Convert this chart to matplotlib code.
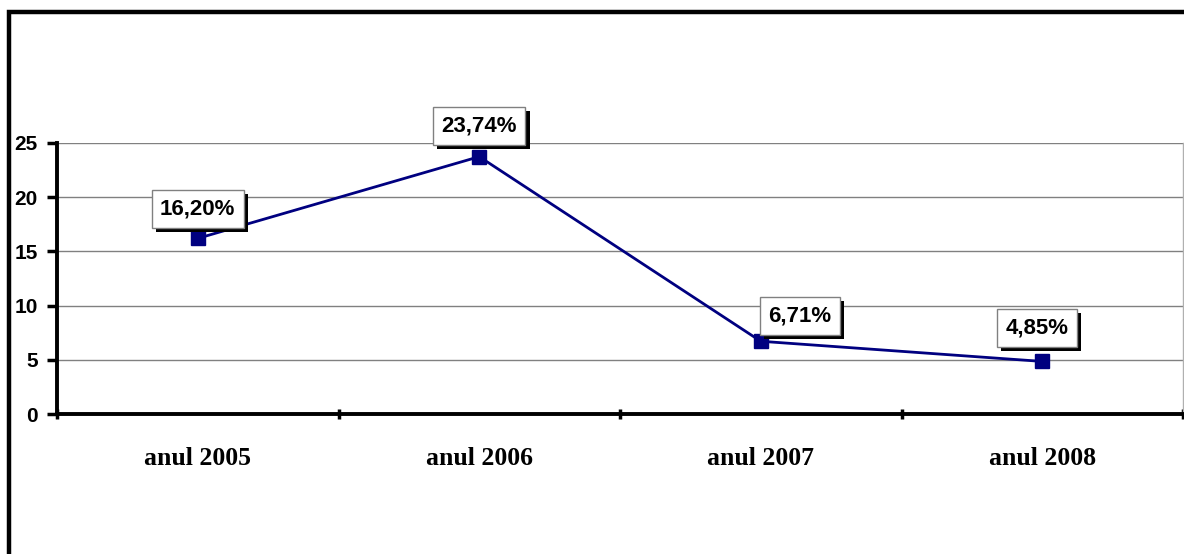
import matplotlib
matplotlib.use("Agg")
import matplotlib.pyplot as plt
import matplotlib.patheffects as pe
from matplotlib.patches import Rectangle

# data
years = ["anul 2005", "anul 2006", "anul 2007", "anul 2008"]
values = [16.20, 23.74, 6.71, 4.85]
labels = ["16,20%", "23,74%", "6,71%", "4,85%"]
# label offsets (points) relative to each marker
offsets = [(0, 21), (0, 22), (28, 18), (-4, 24)]

LINE_COLOR = "#000080"

W, H = 1184, 554
fig = plt.figure(figsize=(W / 100, H / 100), dpi=100)

# outer chart frame (cut off at right and bottom)
fig.patches.append(Rectangle((9 / W, -0.1), 1.2, 1 - 12 / H + 0.1,
                             transform=fig.transFigure, fill=False,
                             edgecolor="black", linewidth=3.2, zorder=0))

ax = fig.add_axes([57 / W, (H - 414) / H, (1183 - 57) / W, (414 - 143) / H])

x = list(range(len(years)))
ax.plot(x, values, color=LINE_COLOR, linewidth=2, marker="s",
        markersize=9.5, markerfacecolor=LINE_COLOR, markeredgecolor=LINE_COLOR,
        zorder=4, clip_on=False)

ax.set_xlim(-0.5, len(years) - 0.5)
ax.set_ylim(0, 25)
ax.set_yticks([0, 5, 10, 15, 20, 25])

# category labels centred, tick marks on boundaries
ax.set_xticks(x)
ax.set_xticklabels(years, fontfamily="Liberation Serif", fontweight="bold", fontsize=18.5)
ax.tick_params(axis="x", which="major", length=0, pad=24)
ax.set_xticks([i - 0.5 for i in range(len(years) + 1)], minor=True)
ax.tick_params(axis="x", which="minor", length=7, width=2.5, direction="inout", color="black")

for t in ax.get_yticklabels():
    t.set_fontfamily("Liberation Sans")
    t.set_fontweight("bold")
    t.set_fontsize(15)
ax.tick_params(axis="y", length=7, width=2.5, pad=7, color="black")

ax.grid(axis="y", color="#808080", linewidth=1)
ax.set_axisbelow(True)

for s in ["left", "bottom"]:
    ax.spines[s].set_linewidth(2.8)
    ax.spines[s].set_color("black")
ax.spines["top"].set_visible(False)
ax.spines["right"].set_color("#b0b0b0")
ax.spines["right"].set_linewidth(1)

for xi, v, lab, off in zip(x, values, labels, offsets):
    t = ax.annotate(lab, (xi, v), xytext=off, textcoords="offset points",
                    ha="center", va="center", fontsize=16, fontweight="bold",
                    fontfamily="Liberation Sans", zorder=6,
                    bbox=dict(boxstyle="square,pad=0.38", facecolor="white",
                              edgecolor="#808080", linewidth=1))
    t.get_bbox_patch().set_path_effects([
        pe.SimplePatchShadow(offset=(3, -3), shadow_rgbFace="black", alpha=1.0),
        pe.Normal()])

fig.savefig("out.png", dpi=100)
